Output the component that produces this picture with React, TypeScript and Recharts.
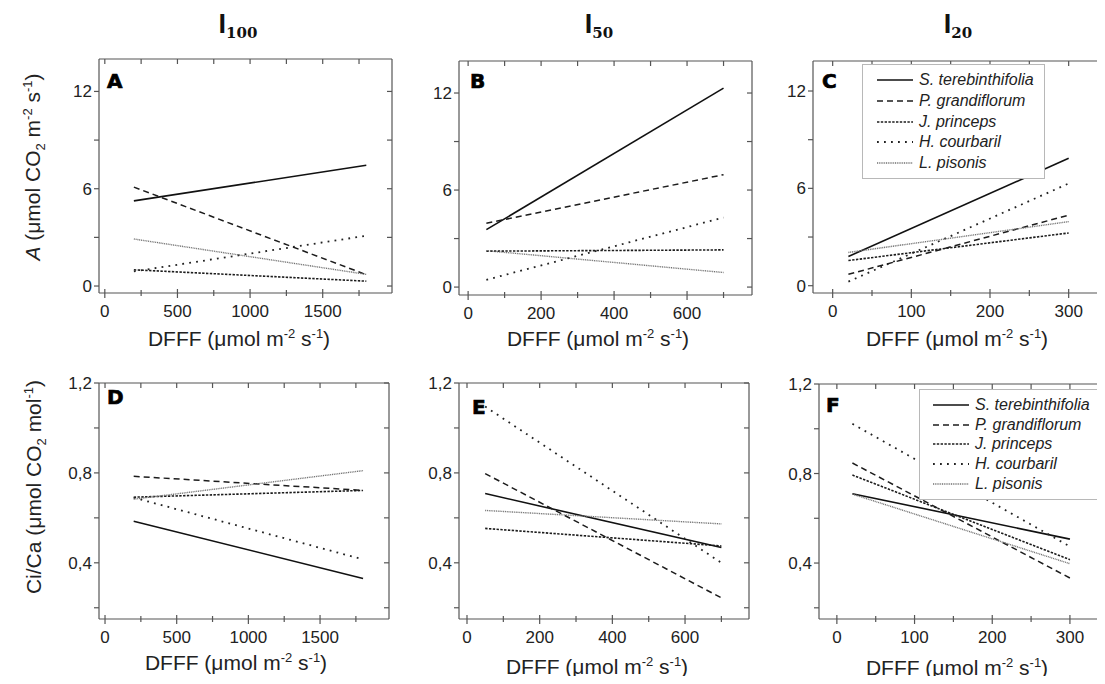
import React from 'react';
import { LineChart, Line, XAxis, YAxis, Legend } from 'recharts';

// species, in legend order, with how each one is drawn
const species = ['S. terebinthifolia', 'P. grandiflorum', 'J. princeps', 'H. courbaril', 'L. pisonis'];
const lineColors = ['#111111', '#1c1c1c', '#1c1c1c', '#222222', '#707070'];
const lineDashes = ['', '6 4', '2.4 1.4', '1.8 5.2', '1 0.8'];
const lineWidths = [1.6, 1.5, 1.6, 1.8, 1.4];

// PPFD span of the fitted lines (start, end) for each light level
const ppfdI100 = [200, 1800];
const ppfdI50 = [50, 700];
const ppfdI20 = [20, 300];

// net assimilation A, [start, end] per species
const aI100 = [[5.25, 7.45], [6.1, 0.7], [1.0, 0.3], [0.9, 3.1], [2.9, 0.72]];
const aI50 = [[3.55, 12.3], [3.95, 6.95], [2.22, 2.3], [0.45, 4.3], [2.25, 0.9]];
const aI20 = [[1.8, 7.85], [0.7, 4.35], [1.55, 3.25], [0.25, 6.3], [2.05, 3.95]];

// Ci/Ca, [start, end] per species
const ciI100 = [[0.585, 0.33], [0.785, 0.722], [0.692, 0.722], [0.69, 0.415], [0.683, 0.81]];
const ciI50 = [[0.708, 0.468], [0.797, 0.244], [0.553, 0.475], [1.095, 0.4], [0.633, 0.573]];
const ciI20 = [[0.71, 0.507], [0.847, 0.333], [0.793, 0.415], [1.022, 0.474], [0.708, 0.397]];

// ticks
const xTicksI100 = [0, 250, 500, 750, 1000, 1250, 1500, 1750];
const xLabelsI100 = [0, 500, 1000, 1500];
const xTicksI50 = [0, 100, 200, 300, 400, 500, 600, 700];
const xLabelsI50 = [0, 200, 400, 600];
const xTicksI20 = [0, 50, 100, 150, 200, 250, 300];
const xLabelsI20 = [0, 100, 200, 300];
const yTicksA = [0, 3, 6, 9, 12];
const yLabelsA = [0, 6, 12];
const yTicksCi = [0.2, 0.4, 0.6, 0.8, 1.0, 1.2];
const yLabelsCi = [0.4, 0.8, 1.2];

const AXIS = '#555';
const TXT = '#222';
const SANS = '"Liberation Sans", Arial, sans-serif';
const tickFont = { fontFamily: SANS, fontSize: 17, fill: TXT };

const fmtA = (v: number) => String(v);
const fmtCi = (v: number) => v.toFixed(1).replace('.', ',');

function BottomTick({ x, y, payload, labels }: any) {
  const major = labels.includes(payload.value);
  return (
    <g>
      <line x1={x} x2={x} y1={y - (major ? 4 : 3)} y2={y + (major ? 5 : 3)} stroke={AXIS} strokeWidth={1.2} />
      {major && (
        <text x={x} y={y + 24} textAnchor="middle" {...tickFont}>
          {payload.value}
        </text>
      )}
    </g>
  );
}

function TopTick({ x, y }: any) {
  return <line x1={x} x2={x} y1={y} y2={y + 5} stroke={AXIS} strokeWidth={1.2} />;
}

function LeftTick({ x, y, payload, labels, fmt }: any) {
  const major = labels.some((l: number) => Math.abs(l - payload.value) < 1e-6);
  return (
    <g>
      <line x1={x - 5} x2={x} y1={y} y2={y} stroke={AXIS} strokeWidth={1.2} />
      {major && (
        <text x={x - 7} y={y + 6} textAnchor="end" {...tickFont}>
          {fmt(payload.value)}
        </text>
      )}
    </g>
  );
}

function RightTick({ x, y }: any) {
  return <line x1={x - 5} x2={x} y1={y} y2={y} stroke={AXIS} strokeWidth={1.2} />;
}

function SpeciesLegend({ rowH, padTop, padLeft }: any) {
  return (
    <div
      style={{
        width: 183,
        boxSizing: 'border-box',
        border: '1px solid #b8b8b8',
        background: '#fff',
        padding: `${padTop}px 0 ${padTop}px ${padLeft}px`,
      }}
    >
      {species.map((name, i) => (
        <div key={name} style={{ display: 'flex', alignItems: 'center', height: rowH }}>
          <svg width={36} height={6} style={{ display: 'block' }}>
            <line
              x1={0}
              x2={36}
              y1={3}
              y2={3}
              stroke={lineColors[i]}
              strokeWidth={lineWidths[i]}
              strokeDasharray={lineDashes[i] || undefined}
            />
          </svg>
          <span
            style={{
              marginLeft: 6,
              fontFamily: SANS,
              fontStyle: 'italic',
              fontSize: 16,
              color: TXT,
              lineHeight: 1,
            }}
          >
            {name}
          </span>
        </div>
      ))}
    </div>
  );
}

type Box = { x: number; y: number; w: number; h: number };

function Panel({
  box,
  xRange,
  values,
  xDomain,
  yDomain,
  xTicks,
  xLabels,
  yTicks,
  yLabels,
  fmtY,
  legend,
}: {
  box: Box;
  xRange: number[];
  values: number[][];
  xDomain: [number, number];
  yDomain: [number, number];
  xTicks: number[];
  xLabels: number[];
  yTicks: number[];
  yLabels: number[];
  fmtY: (v: number) => string;
  legend?: { x: number; y: number; rowH: number; padTop: number; padLeft: number };
}) {
  const pad = 40;
  const data = [0, 1].map((i) => {
    const row: any = { x: xRange[i] };
    values.forEach((v, s) => (row['s' + s] = v[i]));
    return row;
  });
  const left = box.x - pad;
  const top = box.y - pad;
  const axisLine = { stroke: AXIS, strokeWidth: 1.2 };
  // axes are 1px thick, so the plot area starts exactly at box.x / box.y
  const m = pad - 1;

  return (
    <div style={{ position: 'absolute', left, top }}>
      <LineChart
        width={box.w + 2 * pad}
        height={box.h + 2 * pad}
        data={data}
        margin={{ top: m, right: m, bottom: m, left: m }}
      >
        <XAxis
          dataKey="x"
          type="number"
          domain={xDomain}
          allowDataOverflow
          ticks={xTicks}
          interval={0}
          height={1}
          tickSize={0}
          tickMargin={0}
          tickLine={false}
          axisLine={axisLine}
          tick={(p: any) => <BottomTick {...p} labels={xLabels} />}
        />
        <XAxis
          xAxisId="top"
          orientation="top"
          dataKey="x"
          type="number"
          domain={xDomain}
          allowDataOverflow
          ticks={xTicks}
          interval={0}
          height={1}
          tickSize={0}
          tickMargin={0}
          tickLine={false}
          axisLine={axisLine}
          tick={(p: any) => <TopTick {...p} />}
        />
        <YAxis
          type="number"
          domain={yDomain}
          allowDataOverflow
          ticks={yTicks}
          interval={0}
          width={1}
          tickSize={0}
          tickMargin={0}
          tickLine={false}
          axisLine={axisLine}
          tick={(p: any) => <LeftTick {...p} labels={yLabels} fmt={fmtY} />}
        />
        <YAxis
          yAxisId="right"
          orientation="right"
          type="number"
          domain={yDomain}
          allowDataOverflow
          ticks={yTicks}
          interval={0}
          width={1}
          tickSize={0}
          tickMargin={0}
          tickLine={false}
          axisLine={axisLine}
          tick={(p: any) => <RightTick {...p} />}
        />
        {species.map((name, i) => (
          <Line
            key={name}
            name={name}
            dataKey={'s' + i}
            type="linear"
            stroke={lineColors[i]}
            strokeWidth={lineWidths[i]}
            strokeDasharray={lineDashes[i] || undefined}
            dot={false}
            activeDot={false}
            isAnimationActive={false}
          />
        ))}
        {legend && (
          <Legend
            layout="vertical"
            align="center"
            verticalAlign="middle"
            wrapperStyle={{ left: legend.x - left, top: legend.y - top, width: 183, height: 'auto' }}
            content={() => <SpeciesLegend rowH={legend.rowH} padTop={legend.padTop} padLeft={legend.padLeft} />}
          />
        )}
      </LineChart>
    </div>
  );
}

function DfffLabel({ x, y }: { x: number; y: number }) {
  return (
    <text x={x} y={y} textAnchor="middle" fontFamily={SANS} fontSize={21} fill={TXT}>
      DFFF (μmol m
      <tspan dy={-8} fontSize={13}>-2</tspan>
      <tspan dy={8}> s</tspan>
      <tspan dy={-8} fontSize={13}>-1</tspan>
      <tspan dy={8}>)</tspan>
    </text>
  );
}

function Title({ x, sub }: { x: number; sub: string }) {
  return (
    <text x={x} y={33} textAnchor="middle" fill="#111">
      <tspan fontFamily={SANS} fontWeight="bold" fontSize={27}>I</tspan>
      <tspan dy={5} fontFamily='"DejaVu Serif", serif' fontWeight="bold" fontSize={15}>{sub}</tspan>
    </text>
  );
}

function Letter({ x, y, c }: { x: number; y: number; c: string }) {
  return (
    <text x={x} y={y} fontFamily='"DejaVu Sans", sans-serif' fontWeight="bold" fontSize={20} fill="#000" stroke="#000" strokeWidth={0.7}>
      {c}
    </text>
  );
}

export default function App() {
  return (
    <div
      style={{
        position: 'relative',
        width: 1105,
        height: 684,
        margin: -8,
        overflow: 'hidden',
        background: '#fff',
      }}
    >
      <Panel box={{ x: 99, y: 59, w: 293, h: 234 }} xRange={ppfdI100} values={aI100} xDomain={[-40, 1977]} yDomain={[-0.43, 14]}
        xTicks={xTicksI100} xLabels={xLabelsI100} yTicks={yTicksA} yLabels={yLabelsA} fmtY={fmtA} />
      <Panel box={{ x: 459, y: 61, w: 293, h: 234 }} xRange={ppfdI50} values={aI50} xDomain={[-25, 778]} yDomain={[-0.49, 13.98]}
        xTicks={xTicksI50} xLabels={xLabelsI50} yTicks={yTicksA} yLabels={yLabelsA} fmtY={fmtA} />
      <Panel box={{ x: 813, y: 61, w: 295, h: 232 }} xRange={ppfdI20} values={aI20} xDomain={[-25, 350]} yDomain={[-0.45, 13.85]}
        xTicks={xTicksI20} xLabels={xLabelsI20} yTicks={yTicksA} yLabels={yLabelsA} fmtY={fmtA}
        legend={{ x: 862, y: 64, rowH: 20.7, padTop: 5, padLeft: 14 }} />
      <Panel box={{ x: 99, y: 383, w: 290, h: 236 }} xRange={ppfdI100} values={ciI100} xDomain={[-42, 1981]} yDomain={[0.15, 1.2]}
        xTicks={xTicksI100} xLabels={xLabelsI100} yTicks={yTicksCi} yLabels={yLabelsCi} fmtY={fmtCi} />
      <Panel box={{ x: 459, y: 383, w: 290, h: 236 }} xRange={ppfdI50} values={ciI50} xDomain={[-22, 776]} yDomain={[0.15, 1.2]}
        xTicks={xTicksI50} xLabels={xLabelsI50} yTicks={yTicksCi} yLabels={yLabelsCi} fmtY={fmtCi} />
      <Panel box={{ x: 819, y: 384, w: 289, h: 235 }} xRange={ppfdI20} values={ciI20} xDomain={[-23, 349]} yDomain={[0.15, 1.2]}
        xTicks={xTicksI20} xLabels={xLabelsI20} yTicks={yTicksCi} yLabels={yLabelsCi} fmtY={fmtCi}
        legend={{ x: 919, y: 389, rowH: 19.75, padTop: 5, padLeft: 13 }} />

      <svg
        width={1105}
        height={684}
        style={{ position: 'absolute', left: 0, top: 0, pointerEvents: 'none' }}
      >
        <Title x={238} sub="100" />
        <Title x={599} sub="50" />
        <Title x={958} sub="20" />

        <Letter x={107} y={88} c="A" />
        <Letter x={470} y={88} c="B" />
        <Letter x={822} y={88} c="C" />
        <Letter x={107} y={404} c="D" />
        <Letter x={472} y={414} c="E" />
        <Letter x={826} y={412} c="F" />

        <text transform="translate(40,167) rotate(-90)" textAnchor="middle" fontFamily={SANS} fontSize={21} fill={TXT}>
          <tspan fontStyle="italic">A</tspan> (μmol CO
          <tspan dy={5} fontSize={13}>2</tspan>
          <tspan dy={-5}> m</tspan>
          <tspan dy={-8} fontSize={13}>-2</tspan>
          <tspan dy={8}> s</tspan>
          <tspan dy={-8} fontSize={13}>-1</tspan>
          <tspan dy={8}>)</tspan>
        </text>
        <text transform="translate(41,487) rotate(-90)" textAnchor="middle" fontFamily={SANS} fontSize={21} fill={TXT}>
          Ci/Ca (μmol CO
          <tspan dy={5} fontSize={13}>2</tspan>
          <tspan dy={-5}> mol</tspan>
          <tspan dy={-8} fontSize={13}>-1</tspan>
          <tspan dy={8}>)</tspan>
        </text>

        <DfffLabel x={239} y={346} />
        <DfffLabel x={598} y={346} />
        <DfffLabel x={957} y={346} />
        <DfffLabel x={236} y={670} />
        <DfffLabel x={597} y={674} />
        <DfffLabel x={957} y={675} />
      </svg>
    </div>
  );
}
